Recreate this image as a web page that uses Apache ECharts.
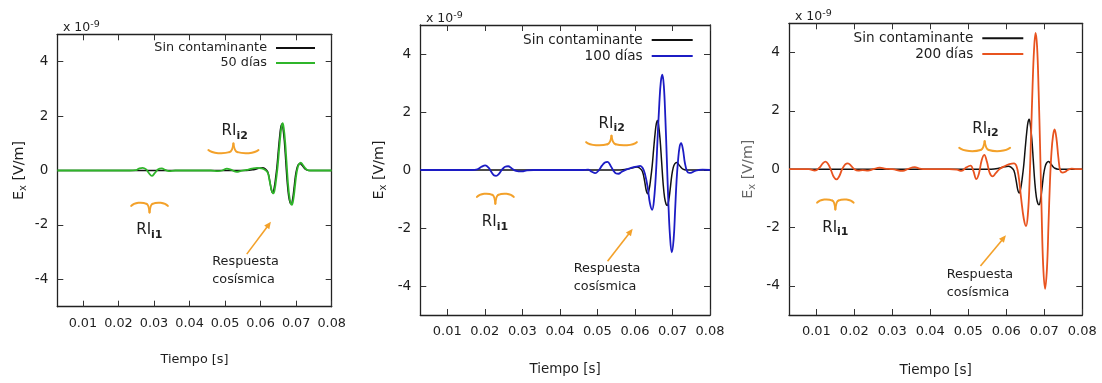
<!DOCTYPE html>
<html>
<head>
<meta charset="utf-8">
<script src="https://cdn.jsdelivr.net/npm/echarts@6/dist/echarts.min.js"></script>
<style>
  html, body { margin: 0; padding: 0; background: #ffffff; }
  #chart { width: 1102px; height: 383px; }
</style>
</head>
<body>
<div id="chart"></div>
<script>
// Ex field (units of 1e-9 V/m) against time (s), three survey dates.

// Reference response without contaminant (same trace in every panel)
const tSin  = [0.0028, 0.0200, 0.0400, 0.0560, 0.0580, 0.0595, 0.0605, 0.0613, 0.0620, 0.0626, 0.0630, 0.0634, 0.0638, 0.0642, 0.0646, 0.0650, 0.0654, 0.0657, 0.0660, 0.0663, 0.0667, 0.0671, 0.0675, 0.0679, 0.0683, 0.0686, 0.0690, 0.0694, 0.0698, 0.0702, 0.0706, 0.0711, 0.0716, 0.0722, 0.0728, 0.0736, 0.0800];
const exSin = [0, 0, 0, 0, 0.03, 0.08, 0.10, 0.06, -0.05, -0.40, -0.70, -0.82, -0.65, -0.30, 0.15, 0.75, 1.30, 1.60, 1.71, 1.55, 1.05, 0.30, -0.45, -0.95, -1.18, -1.22, -1.05, -0.65, -0.20, 0.08, 0.21, 0.26, 0.20, 0.10, 0.03, 0, 0];

// 50 días
const t50  = [0.0028, 0.0200, 0.0232, 0.0248, 0.0258, 0.0268, 0.0278, 0.0286, 0.0294, 0.0302, 0.0312, 0.0322, 0.0332, 0.0342, 0.0360, 0.0460, 0.0480, 0.0492, 0.0505, 0.0518, 0.0533, 0.0545, 0.0560, 0.0575, 0.0590, 0.0602, 0.0612, 0.0620, 0.0626, 0.0631, 0.0636, 0.0640, 0.0644, 0.0648, 0.0652, 0.0656, 0.0659, 0.0662, 0.0665, 0.0669, 0.0673, 0.0677, 0.0681, 0.0685, 0.0688, 0.0692, 0.0696, 0.0700, 0.0704, 0.0708, 0.0713, 0.0718, 0.0724, 0.0730, 0.0740, 0.0800];
const ex50 = [0, 0, 0, 0.01, 0.07, 0.10, 0.04, -0.10, -0.20, -0.10, 0.05, 0.08, 0.02, -0.02, 0, 0, -0.02, 0.0, 0.07, 0.02, -0.05, -0.01, 0.02, 0.07, 0.10, 0.08, 0.03, -0.08, -0.42, -0.72, -0.84, -0.67, -0.30, 0.15, 0.76, 1.32, 1.62, 1.74, 1.57, 1.06, 0.30, -0.46, -0.97, -1.21, -1.26, -1.07, -0.66, -0.20, 0.09, 0.23, 0.29, 0.22, 0.11, 0.03, 0, 0];

// 100 días
const t100  = [0.0028, 0.0165, 0.0180, 0.0191, 0.0201, 0.0210, 0.0218, 0.0224, 0.0230, 0.0237, 0.0246, 0.0254, 0.0262, 0.0272, 0.0283, 0.0299, 0.0312, 0.0330, 0.0460, 0.0475, 0.0485, 0.0494, 0.0503, 0.0512, 0.0520, 0.0527, 0.0535, 0.0543, 0.0550, 0.0556, 0.0565, 0.0578, 0.0592, 0.0605, 0.0614, 0.0621, 0.0627, 0.0634, 0.0640, 0.0646, 0.0651, 0.0656, 0.0660, 0.0665, 0.0669, 0.0673, 0.0677, 0.0681, 0.0685, 0.0689, 0.0693, 0.0698, 0.0703, 0.0707, 0.0711, 0.0715, 0.0719, 0.0723, 0.0728, 0.0733, 0.0739, 0.0745, 0.0751, 0.0760, 0.0770, 0.0780, 0.0800];
const ex100 = [0, 0, 0.02, 0.11, 0.16, 0.08, -0.08, -0.18, -0.20, -0.14, 0.02, 0.11, 0.13, 0.05, -0.03, -0.05, -0.01, 0, 0, 0.01, -0.06, -0.11, -0.02, 0.15, 0.26, 0.28, 0.15, -0.03, -0.12, -0.13, -0.06, 0.02, 0.08, 0.12, 0.14, 0.06, -0.15, -0.60, -1.15, -1.37, -1.00, -0.10, 1.00, 2.30, 3.05, 3.29, 2.90, 1.80, 0.35, -1.10, -2.20, -2.84, -2.40, -1.40, -0.35, 0.35, 0.80, 0.93, 0.70, 0.25, -0.05, -0.10, -0.09, -0.03, 0, 0.01, 0];

// 200 días
const t200  = [0.0028, 0.0080, 0.0096, 0.0108, 0.0117, 0.0124, 0.0131, 0.0139, 0.0146, 0.0153, 0.0160, 0.0168, 0.0176, 0.0183, 0.0191, 0.0200, 0.0210, 0.0222, 0.0236, 0.0250, 0.0267, 0.0280, 0.0300, 0.0328, 0.0340, 0.0359, 0.0372, 0.0390, 0.0450, 0.0470, 0.0482, 0.0495, 0.0506, 0.0513, 0.0521, 0.0528, 0.0535, 0.0542, 0.0549, 0.0556, 0.0564, 0.0572, 0.0582, 0.0595, 0.0608, 0.0620, 0.0627, 0.0633, 0.0639, 0.0646, 0.0652, 0.0657, 0.0661, 0.0665, 0.0669, 0.0673, 0.0677, 0.0681, 0.0685, 0.0689, 0.0693, 0.0697, 0.0702, 0.0707, 0.0711, 0.0715, 0.0719, 0.0723, 0.0727, 0.0732, 0.0737, 0.0742, 0.0748, 0.0754, 0.0762, 0.0772, 0.0785, 0.0800];
const ex200 = [0, 0, -0.05, 0.05, 0.20, 0.26, 0.18, -0.05, -0.27, -0.35, -0.25, 0.0, 0.16, 0.20, 0.12, 0.0, -0.05, -0.03, -0.05, 0.0, 0.05, 0.02, 0.0, -0.06, 0.0, 0.07, 0.02, 0, 0, -0.02, -0.06, 0.06, 0.12, -0.05, -0.34, -0.15, 0.30, 0.49, 0.25, -0.12, -0.25, -0.14, 0.0, 0.10, 0.17, 0.20, 0.10, -0.30, -1.00, -1.70, -1.95, -1.50, -0.50, 1.10, 2.80, 4.10, 4.67, 4.20, 2.70, 0.70, -1.50, -3.30, -4.10, -3.40, -1.90, -0.40, 0.60, 1.15, 1.36, 1.05, 0.40, -0.05, -0.12, -0.10, -0.03, 0.02, 0, 0];

// Axis ticks
const xTicks = [0.01, 0.02, 0.03, 0.04, 0.05, 0.06, 0.07, 0.08];
const yTicks = [-4, -2, 0, 2, 4];
const X_MIN = 0.0028, X_MAX = 0.08, Y_MIN = -5, Y_MAX = 5;

// Legend / annotation texts
const refName = 'Sin contaminante';
const caseNames = ['50 días', '100 días', '200 días'];
const caseColors = ['#2fb52a', '#1c1cc4', '#e8531f'];
const caseT = [t50, t100, t200];
const caseEx = [ex50, ex100, ex200];

// Annotation anchors in data units (time, Ex)
const riBrace2 = [[0.0453, 0.0594, 0.75, 0.99], [0.0470, 0.0605, 0.96, 1.18], [0.0476, 0.0610, 0.73, 0.96]];
const riBrace1 = [[0.0236, 0.0339, -1.30, -1.54], [0.0179, 0.0277, -0.93, -1.16], [0.0102, 0.0198, -1.15, -1.38]];
const riLabel2 = [[0.0527, 1.43], [0.0538, 1.59], [0.0545, 1.38]];
const riLabel1 = [[0.0287, -2.19], [0.0227, -1.81], [0.0150, -2.02]];
const arrowPts = [[[0.0561, -3.07], [0.0629, -1.88]], [[0.0527, -3.15], [0.0594, -2.03]], [[0.0532, -3.32], [0.0599, -2.27]]];
const respText = [[0.0464, -3.67], [0.0437, -3.72], [0.0443, -3.92]];

const FONT = 'DejaVu Sans';
const INK = '#1e1e1e';
const ORANGE = '#f3a12a';

// Panel layout
const layout = [
  { left: 57.3, top: 34.3, width: 274.4, height: 272.4, fs: 12.8, tick: 12.8, xName: 12.8, xGap: 46, yGap: 29, legRight: 787, legTop: 40.5, legW: 39, legLH: 15, expX: 63, expY: 28, yNameColor: INK },
  { left: 420.3, top: 25, width: 289.7, height: 290, fs: 13.6, tick: 13, xName: 13.4, xGap: 48, yGap: 32, legRight: 409.3, legTop: 32, legW: 41, legLH: 16, expX: 426, expY: 19, yNameColor: INK },
  { left: 789, top: 23.3, width: 293.3, height: 291.7, fs: 13.6, tick: 13, xName: 13.6, xGap: 48, yGap: 32, legRight: 78.7, legTop: 30.5, legW: 41, legLH: 15.7, expX: 795, expY: 17, yNameColor: '#666666' }
];

const zip = (t, v) => t.map((x, i) => [x, v[i]]);

const axisLineStyle = { color: '#222222', width: 1.3 };
const grids = [], xAxes = [], yAxes = [], series = [], legends = [];

layout.forEach((L, i) => {
  grids.push({ left: L.left, top: L.top, width: L.width, height: L.height, show: false });

  const tickStyle = { inside: true, length: 6, lineStyle: { color: '#333333', width: 1 } };
  xAxes.push({
    gridIndex: i, type: 'value', min: X_MIN, max: X_MAX, position: 'bottom',
    axisLine: { onZero: false, lineStyle: axisLineStyle },
    axisTick: Object.assign({ customValues: xTicks }, tickStyle),
    axisLabel: { customValues: xTicks, formatter: v => v.toFixed(2), margin: 10, fontSize: L.tick, color: INK, fontFamily: FONT },
    splitLine: { show: false },
    name: 'Tiempo [s]', nameLocation: 'middle', nameGap: L.xGap,
    nameTextStyle: { fontSize: L.xName, color: INK, fontFamily: FONT }
  });
  xAxes.push({
    gridIndex: i, type: 'value', min: X_MIN, max: X_MAX, position: 'top',
    axisLine: { onZero: false, lineStyle: axisLineStyle },
    axisTick: Object.assign({ customValues: xTicks }, tickStyle),
    axisLabel: { show: false }, splitLine: { show: false }
  });
  yAxes.push({
    gridIndex: i, type: 'value', min: Y_MIN, max: Y_MAX, position: 'left',
    axisLine: { onZero: false, lineStyle: axisLineStyle },
    axisTick: Object.assign({ customValues: yTicks }, tickStyle),
    axisLabel: { customValues: yTicks, formatter: v => String(v), margin: 9, fontSize: L.tick + 0.7, color: INK, fontFamily: FONT },
    splitLine: { show: false },
    name: '{m|E}{s|x}{m| [V/m]}', nameLocation: 'middle', nameGap: L.yGap, nameRotate: 90,
    nameTextStyle: {
      color: L.yNameColor, fontFamily: FONT,
      rich: {
        m: { fontSize: 14.3, lineHeight: 18, color: L.yNameColor, fontFamily: FONT },
        s: { fontSize: 10, lineHeight: 10, verticalAlign: 'bottom', color: L.yNameColor, fontFamily: FONT }
      }
    }
  });
  yAxes.push({
    gridIndex: i, type: 'value', min: Y_MIN, max: Y_MAX, position: 'right',
    axisLine: { onZero: false, lineStyle: axisLineStyle },
    axisTick: Object.assign({ customValues: yTicks }, tickStyle),
    axisLabel: { show: false }, splitLine: { show: false }
  });

  series.push({
    name: refName, type: 'line', xAxisIndex: 2 * i, yAxisIndex: 2 * i,
    data: zip(tSin, exSin), showSymbol: false, smooth: 0.4,
    itemStyle: { color: '#111111' }, lineStyle: { color: '#111111', width: 1.5 }, z: 2
  });
  series.push({
    name: caseNames[i], type: 'line', xAxisIndex: 2 * i, yAxisIndex: 2 * i,
    data: zip(caseT[i], caseEx[i]), showSymbol: false, smooth: 0.4,
    itemStyle: { color: caseColors[i] }, lineStyle: { color: caseColors[i], width: 1.8 }, z: 3
  });

  legends.push({
    data: [refName, caseNames[i]], orient: 'vertical', align: 'right',
    right: L.legRight, top: L.legTop, itemWidth: L.legW, itemHeight: 2, itemGap: 0,
    icon: 'rect', padding: 0, selectedMode: false,
    textStyle: { fontSize: L.fs, color: INK, fontFamily: FONT, lineHeight: L.legLH, padding: [0, 4, 0, 0] }
  });
});

const chart = echarts.init(document.getElementById('chart'), null, { renderer: 'canvas' });
chart.setOption({
  animation: false,
  backgroundColor: '#ffffff',
  textStyle: { fontFamily: FONT },
  grid: grids, xAxis: xAxes, yAxis: yAxes, legend: legends, series: series
});

// Annotations: braces, RI labels, arrows and captions, placed through the axes
function toPx(i, t, v) {
  return chart.convertToPixel({ xAxisIndex: 2 * i, yAxisIndex: 2 * i }, [t, v]);
}

function brace(i, spec) {
  const a = toPx(i, spec[0], spec[2]);
  const b = toPx(i, spec[1], spec[2]);
  const tip = toPx(i, 0, spec[3]);
  const x0 = a[0], w = b[0] - a[0], y0 = a[1], dy = tip[1] - a[1];
  const P = (u, s) => [x0 + u * w, y0 + s * dy];
  const segs = [
    [[0, 0], [0.08, -0.55], [0.3, -0.6], [0.42, -0.32]],
    [[0.42, -0.32], [0.47, -0.2], [0.49, 0.4], [0.5, 1]],
    [[0.5, 1], [0.51, 0.4], [0.53, -0.2], [0.58, -0.32]],
    [[0.58, -0.32], [0.7, -0.6], [0.92, -0.55], [1, 0]]
  ];
  return segs.map(sg => {
    const p0 = P(...sg[0]), c1 = P(...sg[1]), c2 = P(...sg[2]), p1 = P(...sg[3]);
    return {
      type: 'bezierCurve', silent: true, z: 10,
      shape: { x1: p0[0], y1: p0[1], cpx1: c1[0], cpy1: c1[1], cpx2: c2[0], cpy2: c2[1], x2: p1[0], y2: p1[1] },
      style: { stroke: ORANGE, lineWidth: 2, fill: null, lineCap: 'round' }
    };
  });
}

function arrow(i, pts) {
  const a = toPx(i, pts[0][0], pts[0][1]);
  const b = toPx(i, pts[1][0], pts[1][1]);
  const dx = b[0] - a[0], dy = b[1] - a[1], len = Math.hypot(dx, dy);
  const ux = dx / len, uy = dy / len, nx = -uy, ny = ux;
  const hl = 7, hw = 3.2;
  return [
    { type: 'line', silent: true, z: 10,
      shape: { x1: a[0], y1: a[1], x2: b[0] - ux * 4, y2: b[1] - uy * 4 },
      style: { stroke: ORANGE, lineWidth: 1.6 } },
    { type: 'polygon', silent: true, z: 10,
      shape: { points: [[b[0], b[1]], [b[0] - ux * hl + nx * hw, b[1] - uy * hl + ny * hw], [b[0] - ux * hl - nx * hw, b[1] - uy * hl - ny * hw]] },
      style: { fill: ORANGE } }
  ];
}

function riText(i, pos, sub) {
  const p = toPx(i, pos[0], pos[1]);
  return {
    type: 'text', silent: true, z: 11, x: p[0], y: p[1],
    style: {
      text: '{m|RI}{s|' + sub + '}', align: 'center', verticalAlign: 'middle',
      rich: {
        m: { fontSize: 15, lineHeight: 20, fill: INK, fontFamily: FONT },
        s: { fontSize: 11, lineHeight: 9, fontWeight: 'bold', verticalAlign: 'bottom', fill: INK, fontFamily: FONT }
      }
    }
  };
}

const graphics = [];
layout.forEach((L, i) => {
  graphics.push(...brace(i, riBrace2[i]));
  graphics.push(...brace(i, riBrace1[i]));
  graphics.push(riText(i, riLabel2[i], 'i2'));
  graphics.push(riText(i, riLabel1[i], 'i1'));
  graphics.push(...arrow(i, arrowPts[i]));
  const rp = toPx(i, respText[i][0], respText[i][1]);
  graphics.push({
    type: 'text', silent: true, z: 11, x: rp[0], y: rp[1],
    style: { text: 'Respuesta\ncosísmica', align: 'left', verticalAlign: 'middle', fontSize: 12.8, lineHeight: 17.5, fill: INK, fontFamily: FONT }
  });
  // Axis multiplier
  graphics.push({
    type: 'text', silent: true, z: 11, x: L.expX, y: L.expY,
    style: {
      text: '{m|x 10}{p|-9}', align: 'left', verticalAlign: 'middle',
      rich: {
        m: { fontSize: 12.5, lineHeight: 16, fill: INK, fontFamily: FONT },
        p: { fontSize: 9.5, lineHeight: 8, verticalAlign: 'top', fill: INK, fontFamily: FONT }
      }
    }
  });
});

chart.setOption({ graphic: graphics });
</script>
</body>
</html>
